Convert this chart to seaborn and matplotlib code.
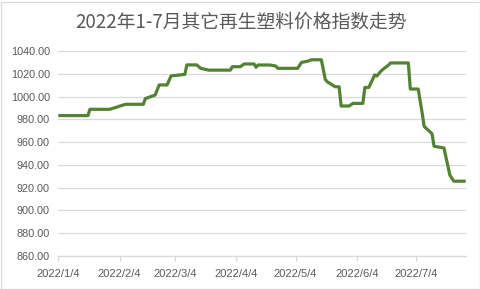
import matplotlib
matplotlib.use("Agg")
import matplotlib.pyplot as plt
import seaborn as sns
import pandas as pd
from matplotlib.patches import Rectangle

title = "2022年1-7月其它再生塑料价格指数走势"

dates = ["2022-01-04", "2022-01-19", "2022-01-20", "2022-01-30", "2022-02-07", "2022-02-16",
         "2022-02-17", "2022-02-22", "2022-02-24", "2022-02-28", "2022-03-02", "2022-03-09",
         "2022-03-10", "2022-03-15", "2022-03-17", "2022-03-21", "2022-04-01", "2022-04-02",
         "2022-04-06", "2022-04-08", "2022-04-13", "2022-04-14", "2022-04-15", "2022-04-21",
         "2022-04-24", "2022-04-25", "2022-05-05", "2022-05-07", "2022-05-10", "2022-05-12",
         "2022-05-17", "2022-05-19", "2022-05-20", "2022-05-24", "2022-05-26", "2022-05-27",
         "2022-05-31", "2022-06-02", "2022-06-07", "2022-06-08", "2022-06-10", "2022-06-13",
         "2022-06-14", "2022-06-16", "2022-06-17", "2022-06-20", "2022-06-21", "2022-06-30",
         "2022-07-01", "2022-07-05", "2022-07-07", "2022-07-08", "2022-07-12", "2022-07-13",
         "2022-07-18", "2022-07-21", "2022-07-23", "2022-07-29"]

values = [983.3, 983.3, 988.8, 988.8, 993.2, 993.2,
          998.2, 1001.4, 1010.2, 1010.2, 1018.1, 1019.5,
          1027.8, 1027.8, 1024.8, 1023.2, 1023.2, 1026.2,
          1026.2, 1028.6, 1028.6, 1025.7, 1027.7, 1027.7,
          1026.8, 1024.8, 1024.8, 1030.0, 1031.0, 1032.3,
          1032.3, 1015.0, 1013.0, 1008.6, 1008.6, 991.7,
          991.7, 994.0, 994.0, 1008.0, 1008.0, 1019.0,
          1018.0, 1022.0, 1023.7, 1027.7, 1029.5, 1029.5,
          1006.6, 1006.6, 985.3, 973.8, 967.3, 956.3,
          954.9, 931.0, 925.7, 925.7]

xtick_dates = ["2022-01-04", "2022-02-04", "2022-03-04", "2022-04-04",
               "2022-05-04", "2022-06-04", "2022-07-04"]
xtick_labels = ["2022/1/4", "2022/2/4", "2022/3/4", "2022/4/4",
                "2022/5/4", "2022/6/4", "2022/7/4"]
yticks = [860, 880, 900, 920, 940, 960, 980, 1000, 1020, 1040]

sns.set_style("white")
plt.rcParams['font.family'] = ['Liberation Sans', 'DejaVu Sans']

df = pd.DataFrame({"date": pd.to_datetime(dates), "value": values})

fig = plt.figure(figsize=(4.81, 2.89), dpi=100)
ax = fig.add_axes([58.3 / 481, 33 / 289, (465.7 - 58.3) / 481, 205 / 289])

grid_c = "#d9d9d9"
text_c = "#595959"

sns.lineplot(data=df, x="date", y="value", ax=ax, color="#548235", linewidth=2.3,
             solid_joinstyle="round", solid_capstyle="butt")

ax.set_xlim(pd.Timestamp(dates[0]), pd.Timestamp(dates[-1]))
ax.set_ylim(860, 1040)
ax.set_yticks(yticks)
ax.set_yticklabels([f"{v:.2f}" for v in yticks])
ax.set_xticks(pd.to_datetime(xtick_dates))
ax.set_xticklabels(xtick_labels)

ax.yaxis.grid(True, color=grid_c, linewidth=0.9)
ax.set_axisbelow(True)
for s in ["top", "right", "left"]:
    ax.spines[s].set_visible(False)
ax.spines["bottom"].set_color(grid_c)
ax.spines["bottom"].set_linewidth(0.9)

ax.tick_params(axis="y", length=0, pad=6, labelsize=7.8, labelcolor=text_c)
ax.tick_params(axis="x", direction="out", length=3.5, width=0.9, color=grid_c,
               pad=6, labelsize=8, labelcolor=text_c, bottom=True)
ax.set_xlabel("")
ax.set_ylabel("")

fig.text(0.5, 1 - 22 / 289, title, ha="center", va="center", fontsize=13.5,
         color=text_c, family=["Noto Sans CJK SC", "DejaVu Sans"])

fig.patches.append(Rectangle((0.5 / 481, 0.5 / 289), 479.5 / 481, 287 / 289,
                             transform=fig.transFigure, fill=False,
                             edgecolor=grid_c, linewidth=0.9))

fig.savefig("out.png", dpi=100)
